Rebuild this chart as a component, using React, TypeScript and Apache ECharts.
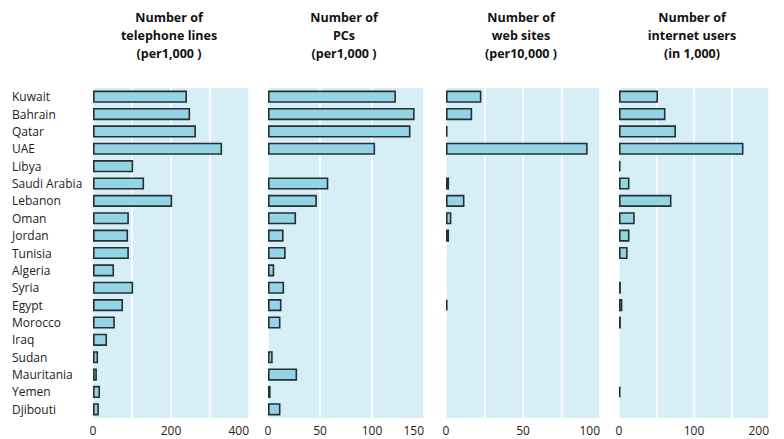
import React, { useEffect, useRef } from "react";
import * as echarts from "echarts";

const countries = [
  "Kuwait", "Bahrain", "Qatar", "UAE", "Libya", "Saudi Arabia", "Lebanon", "Oman", "Jordan", "Tunisia",
  "Algeria", "Syria", "Egypt", "Morocco", "Iraq", "Sudan", "Mauritania", "Yemen", "Djibouti",
];

const telephoneLines = [241, 249, 264, 331, 103, 131, 203, 92, 90, 92, 54, 103, 77, 56, 36, 13, 10, 18, 15];
const pcs = [123, 141, 137, 103, null, 58, 47, 27, 15, 17, 6, 15.5, 13, 12, null, 4.5, 28, 2.5, 12];
const webSites = [23, 17, 1, 92, null, 2, 12, 3.5, 2, null, null, null, 1, null, null, null, null, null, null];
const internetUsers = [52, 62, 76, 166, 2, 14, 70, 21, 14, 11.5, null, 2.5, 4.5, 2.5, null, null, null, 2, null];

const titles = [
  "Number of\ntelephone lines\n(per1,000 )",
  "Number of\nPCs\n(per1,000 )",
  "Number of\nweb sites\n(per10,000 )",
  "Number of\ninternet users\n(in 1,000)",
];

const axisMax = [400, 150, 100, 200];
const axisInterval = [100, 50, 25, 50];
const shownTicks = [[0, 200, 400], [0, 50, 100, 150], [0, 50, 100], [0, 100, 200]];

const panels = [
  { left: 93, width: 156 },
  { left: 268, width: 156 },
  { left: 446, width: 154 },
  { left: 619, width: 150 },
];

const FONT = "'Open Sans', 'DejaVu Sans', sans-serif";

export default function App() {
  const ref = useRef<HTMLDivElement>(null);
  useEffect(() => {
    if (!ref.current) return;
    const chart = echarts.init(ref.current, undefined, { renderer: "svg" });
    const seriesData = [telephoneLines, pcs, webSites, internetUsers];
    const grids = panels.map((p) => ({
      left: p.left,
      width: p.width,
      top: 88,
      height: 330,
      show: true,
      backgroundColor: "#d6eef5",
      borderWidth: 0,
    }));
    const xAxes = panels.map((_, i) => ({
      type: "value",
      gridIndex: i,
      min: 0,
      max: axisMax[i],
      interval: axisInterval[i],
      position: "bottom",
      axisLine: { show: false },
      axisTick: { show: false },
      splitLine: { show: true, lineStyle: { color: "#ffffff", width: 1.5 } },
      axisLabel: {
        margin: 6,
        fontFamily: FONT,
        fontSize: 12,
        color: "#222",
        alignMaxLabel: "right",
        formatter: (v: number) => (shownTicks[i].includes(v) ? String(v) : ""),
      },
    }));
    const yAxes = panels.map((_, i) => ({
      type: "category",
      gridIndex: i,
      data: countries,
      inverse: true,
      axisLine: { show: false },
      axisTick: { show: false },
      splitLine: { show: false },
      axisLabel: {
        show: i === 0,
        align: "left",
        margin: 81,
        fontFamily: FONT,
        fontSize: 12,
        color: "#222",
      },
    }));
    const series = seriesData.map((d, i) => ({
      type: "bar",
      xAxisIndex: i,
      yAxisIndex: i,
      data: d,
      barCategoryGap: "30%",
      itemStyle: { color: "#93d5e5", borderColor: "#263030", borderWidth: 1.6 },
    }));
    const centers = panels.map((p) => p.left + p.width / 2 - 2);
    const graphic = titles.map((t, i) => ({
      type: "text",
      x: centers[i],
      y: 8,
      style: {
        text: t,
        fontFamily: FONT,
        fontSize: 12.5,
        fontWeight: "bold",
        fill: "#111",
        align: "center",
        verticalAlign: "top",
        lineHeight: 18,
      },
    }));
    chart.setOption({
      animation: false,
      backgroundColor: "#ffffff",
      grid: grids,
      xAxis: xAxes,
      yAxis: yAxes,
      series,
      graphic,
    });
    return () => chart.dispose();
  }, []);
  return <div ref={ref} style={{ width: 784, height: 439, position: "absolute", left: 0, top: 0 }} />;
}
